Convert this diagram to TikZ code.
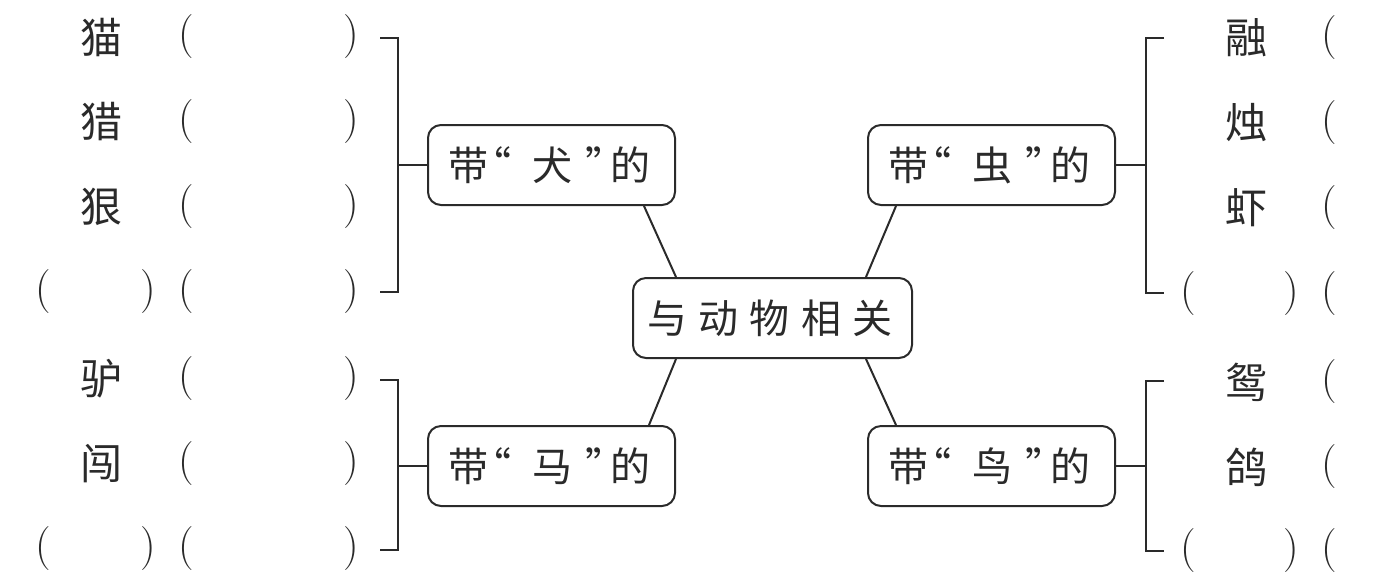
\documentclass[tikz,border=0pt]{standalone}
\usepackage{fontspec}
\newfontfamily\cjk{Noto Sans CJK SC}
\usetikzlibrary{calc}
\newcommand\cc[1]{\hbox to 0pt{\hss#1\hss}}
\newcommand\boxtext[1]{\hbox to 123.5pt{\hskip20pt\cc{带}\hskip11.5pt\cc{“}\hskip31pt\cc{#1}\hskip26.5pt\cc{”}\hskip12pt\cc{的}\hfil}}
\definecolor{ink}{HTML}{2A2A2A}
\begin{document}
\begin{tikzpicture}[x=0.5pt,y=-0.5pt,line width=1pt,draw=ink,text=ink,
  catbox/.style={draw,rounded corners=6.5pt,minimum width=123.5pt,minimum height=40pt,inner sep=0pt,font=\cjk\fontsize{20}{20}\selectfont},
  ch/.style={inner sep=0pt,font=\cjk\fontsize{21}{21}\selectfont},
  paren/.style={inner sep=0pt,font=\fontsize{22}{22}\selectfont}]
\useasboundingbox (0,0) rectangle (1386,586);

% central and category boxes
\node[catbox,minimum width=139.5pt] (ctr) at (772.5,318)
  {\hbox to 139.5pt{\hskip17pt\cc{与}\hskip25.75pt\cc{动}\hskip25.75pt\cc{物}\hskip25.75pt\cc{相}\hskip25.75pt\cc{关}\hfil}};
\node[catbox] (dog) at (551.5,165) {\boxtext{犬}};
\node[catbox] (insect) at (991.5,165) {\boxtext{虫}};
\node[catbox] (horse) at (551.5,466) {\boxtext{马}};
\node[catbox] (bird) at (991.5,466) {\boxtext{鸟}};

\draw ($(dog.south east)+(-32,0)$) -- ($(ctr.north west)+(44,0)$);
\draw ($(insect.south west)+(29,0)$) -- ($(ctr.north east)+(-47,0)$);
\draw ($(horse.north east)+(-27,0)$) -- ($(ctr.south west)+(44,0)$);
\draw ($(bird.north west)+(29,0)$) -- ($(ctr.south east)+(-47,0)$);

% left top group
\foreach \t/\y/\n in {猫/37/a,猎/122/b,狠/207/c}{
  \node[ch] (LT\n) at (101,\y) {\t};
  \node[paren] (LTo\n) at (186,\y) {(};
  \node[paren] (LTc\n) at (351,\y) {)};
}
\node[paren] (LTxo) at (43,292) {(};
\node[paren] (LTxc) at (148,292) {)};
\node[paren] (LTod) at (186,292) {(};
\node[paren] (LTcd) at (351,292) {)};
\coordinate (Lt) at (380,38);
\coordinate (Lb) at (380,292);
\draw (Lt) -- ++(18,0) |- (Lb);
\draw (dog.west) -- ++(-30,0);

% left bottom group
\foreach \t/\y/\n in {驴/379/a,闯/464/b}{
  \node[ch] (LB\n) at (101,\y) {\t};
  \node[paren] (LBo\n) at (186,\y) {(};
  \node[paren] (LBc\n) at (351,\y) {)};
}
\node[paren] (LBxo) at (43,549) {(};
\node[paren] (LBxc) at (148,549) {)};
\node[paren] (LBoc) at (186,549) {(};
\node[paren] (LBcc) at (351,549) {)};
\coordinate (Lt2) at (380,380);
\coordinate (Lb2) at (380,550);
\draw (Lt2) -- ++(18,0) |- (Lb2);
\draw (horse.west) -- ++(-30,0);

% right top group
\foreach \t/\y/\n in {融/38/a,烛/123/b,虾/208/c}{
  \node[ch] (RT\n) at (1246,\y) {\t};
  \node[paren] (RTo\n) at (1329,\y) {(};
}
\node[paren] (RTxo) at (1188,294) {(};
\node[paren] (RTxc) at (1291,294) {)};
\node[paren] (RTod) at (1329,294) {(};
\coordinate (Rt) at (1164,38);
\coordinate (Rb) at (1164,293);
\draw (Rt) -- ++(-18,0) |- (Rb);
\draw (insect.east) -- ++(31,0);

% right bottom group
\foreach \t/\y/\n in {鸳/382/a,鸽/467/b}{
  \node[ch] (RB\n) at (1246,\y) {\t};
  \node[paren] (RBo\n) at (1329,\y) {(};
}
\node[paren] (RBxo) at (1188,551) {(};
\node[paren] (RBxc) at (1291,551) {)};
\node[paren] (RBoc) at (1329,551) {(};
\coordinate (Rt2) at (1164,381);
\coordinate (Rb2) at (1164,551);
\draw (Rt2) -- ++(-18,0) |- (Rb2);
\draw (bird.east) -- ++(31,0);
\end{tikzpicture}
\end{document}
